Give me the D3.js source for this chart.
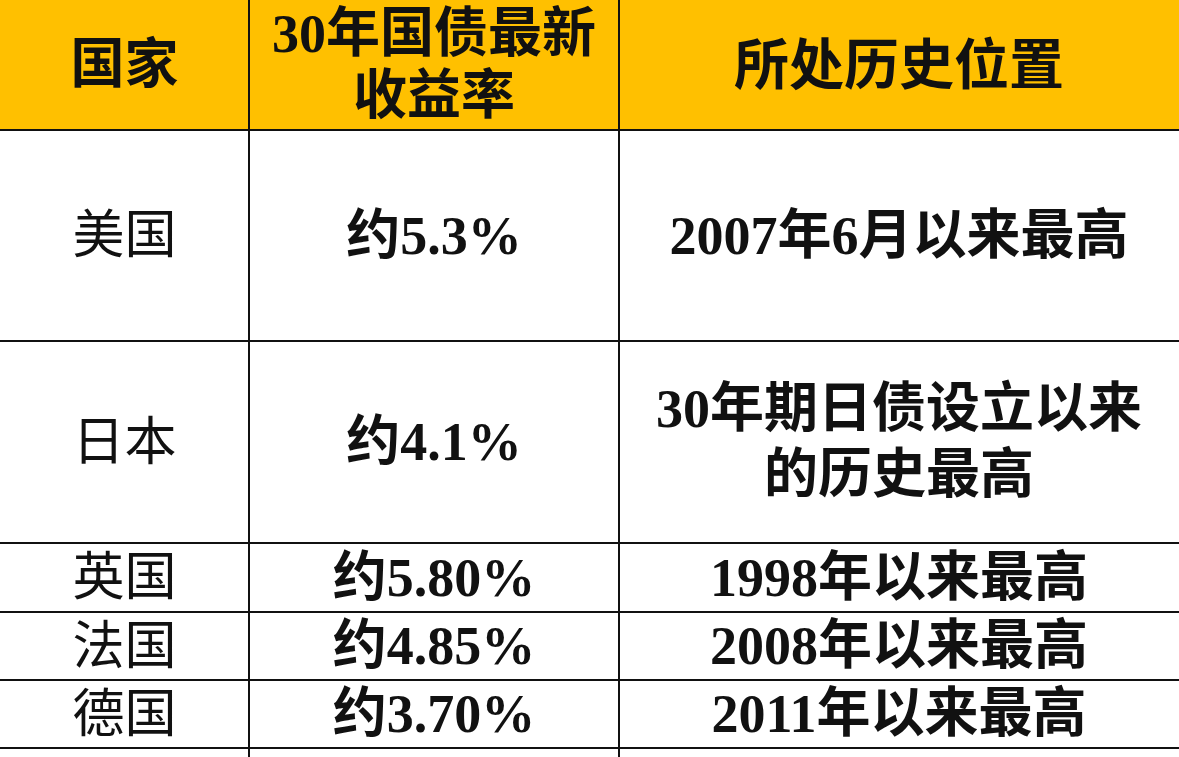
<!DOCTYPE html>
<html><head><meta charset="utf-8">
<script src="https://cdn.jsdelivr.net/npm/d3@7/dist/d3.min.js"></script>
<style>body{margin:0;background:#fff;}</style></head>
<body><svg id="c" width="1179" height="757"></svg>
<script>
const headers = [["国家"], ["30年国债最新","收益率"], ["所处历史位置"]];
const countries = ["美国","日本","英国","法国","德国"];
const yields = ["约5.3%","约4.1%","约5.80%","约4.85%","约3.70%"];
const positions = [["2007年6月以来最高"],["30年期日债设立以来","的历史最高"],["1998年以来最高"],["2008年以来最高"],["2011年以来最高"]];

const colEdges = [0, 249, 619, 1179];
const rowEdges = [0, 130, 341, 543, 612, 680, 748, 757];
const svg = d3.select("#c");
const font = "'Liberation Serif','Noto Sans CJK SC',serif";
const sizes = [[54,54,55],[52,54,54]];

svg.append("rect").attr("x",0).attr("y",0).attr("width",1179).attr("height",rowEdges[1]).attr("fill","#FFC000");

const rows = [{cells: headers, bold:[true,true,true]}].concat(countries.map((c,i)=>({cells:[[c],[yields[i]],positions[i]], bold:[false,true,true]})));
rows.forEach((r,ri)=>{
  const y0=rowEdges[ri], y1=rowEdges[ri+1], cy=(y0+y1)/2;
  r.cells.forEach((lines,ci)=>{
    const cx=(colEdges[ci]+colEdges[ci+1])/2;
    const lh = ri===0?62:66;
    lines.forEach((t,li)=>{
      svg.append("text").attr("x",cx).attr("y",cy+(li-(lines.length-1)/2)*lh)
        .attr("text-anchor","middle").attr("dominant-baseline","central")
        .attr("font-family",font).attr("font-size",sizes[ri===0?0:1][ci])
        .attr("font-weight",r.bold[ci]?"bold":"normal").attr("fill","#111").text(t);
    });
  });
});
rowEdges.slice(1,-1).forEach(y=>svg.append("line").attr("x1",0).attr("x2",1179).attr("y1",y).attr("y2",y).attr("stroke","#111").attr("stroke-width",2));
colEdges.slice(1,-1).forEach(x=>svg.append("line").attr("x1",x).attr("x2",x).attr("y1",0).attr("y2",757).attr("stroke","#111").attr("stroke-width",2));
</script></body></html>
